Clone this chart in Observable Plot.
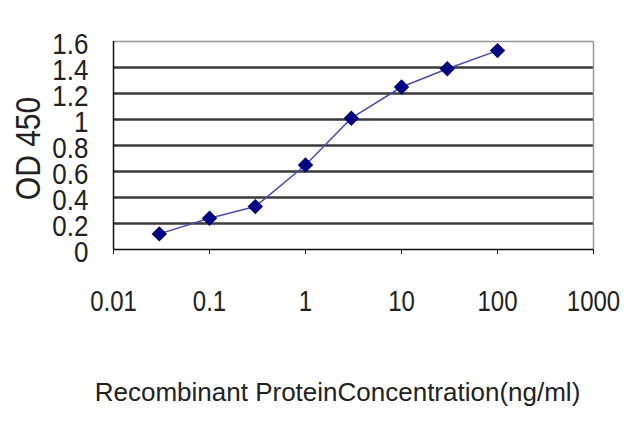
<!DOCTYPE html>
<html lang="en">
<head>
    <meta charset="UTF-8">
    <title>OD 450</title>
    <script src="https://cdn.jsdelivr.net/npm/d3@7"></script>
    <script src="https://cdn.jsdelivr.net/npm/@observablehq/plot@0.6"></script>
    <style>
        body { margin: 0; background: #fff; }
        #chart svg { display: block; }
    </style>
</head>
<body>
    <div id="chart"></div>
    <script>
    // valeurs
    const conc = [0.03, 0.1, 0.3, 1, 3, 10, 30, 100];
    const od = [0.12, 0.24, 0.33, 0.65, 1.01, 1.25, 1.39, 1.53];
    const xTicks = [0.01, 0.1, 1, 10, 100, 1000];
    const yTicks = [0, 0.2, 0.4, 0.6, 0.8, 1, 1.2, 1.4, 1.6];
    const gridTicks = [0.2, 0.4, 0.6, 0.8, 1, 1.2, 1.4];

    const data = conc.map((c, i) => ({ c, v: od[i] }));
    const font = "'Liberation Sans', Arial, sans-serif";

    const chart = Plot.plot({
        width: 640,
        height: 427,
        marginLeft: 113,
        marginRight: 47,
        marginTop: 41,
        marginBottom: 178,
        style: { background: "#fff", color: "#222", fontFamily: font },
        x: { type: "log", domain: [0.01, 1000] },
        y: { domain: [0, 1.6] },
        marks: [
            Plot.ruleY(gridTicks, { stroke: "#3a3a3a", strokeWidth: 2.5 }),
            Plot.ruleY([1.6], { stroke: "#999", strokeWidth: 1.5 }),
            Plot.ruleX([1000], { stroke: "#999", strokeWidth: 1.5 }),
            Plot.ruleX([0.01], { stroke: "#111", strokeWidth: 1.5 }),
            Plot.ruleY([0], { stroke: "#111", strokeWidth: 1.5 }),
            Plot.axisX({
                ticks: xTicks,
                tickFormat: d => String(d),
                tickSize: 5,
                tickPadding: 35,
                fontSize: 24,
                fontFamily: font,
                label: null
            }),
            Plot.axisY({
                ticks: yTicks,
                tickFormat: d => String(d),
                tickSize: 0,
                tickPadding: 25,
                dy: 3,
                fontSize: 26,
                fontFamily: font,
                label: null
            }),
            Plot.line(data, { x: "c", y: "v", stroke: "#4a4ab4", strokeWidth: 1.5 }),
            Plot.dot(data, { x: "c", y: "v", symbol: "diamond2", r: 6, fill: "#000080", stroke: "#000080" }),
            Plot.text(["OD 450"], {
                frameAnchor: "left", textAnchor: "middle", rotate: -90, dx: -85, dy: 3,
                fontSize: 30, fontFamily: font, fill: "#222"
            }),
            Plot.text(["Recombinant ProteinConcentration(ng/ml)"], {
                frameAnchor: "bottom", dx: -16, dy: 151,
                fontSize: 26, fontFamily: font, fill: "#222"
            })
        ]
    });

    // étirer verticalement les textes comme sur l'original
    const stretch = (sel, t) => d3.select(chart).selectAll(sel)
        .attr("transform", function () { return (this.getAttribute("transform") || "") + " " + t; });
    stretch('g[aria-label="y-axis tick label"] text', "scale(1,1.15)");
    stretch('g[aria-label="x-axis tick label"] text', "scale(1,1.25)");
    stretch('g[aria-label="text"] text[transform*="rotate"]', "scale(1,1.15)");

    document.querySelector("#chart").append(chart);
    </script>
</body>
</html>
